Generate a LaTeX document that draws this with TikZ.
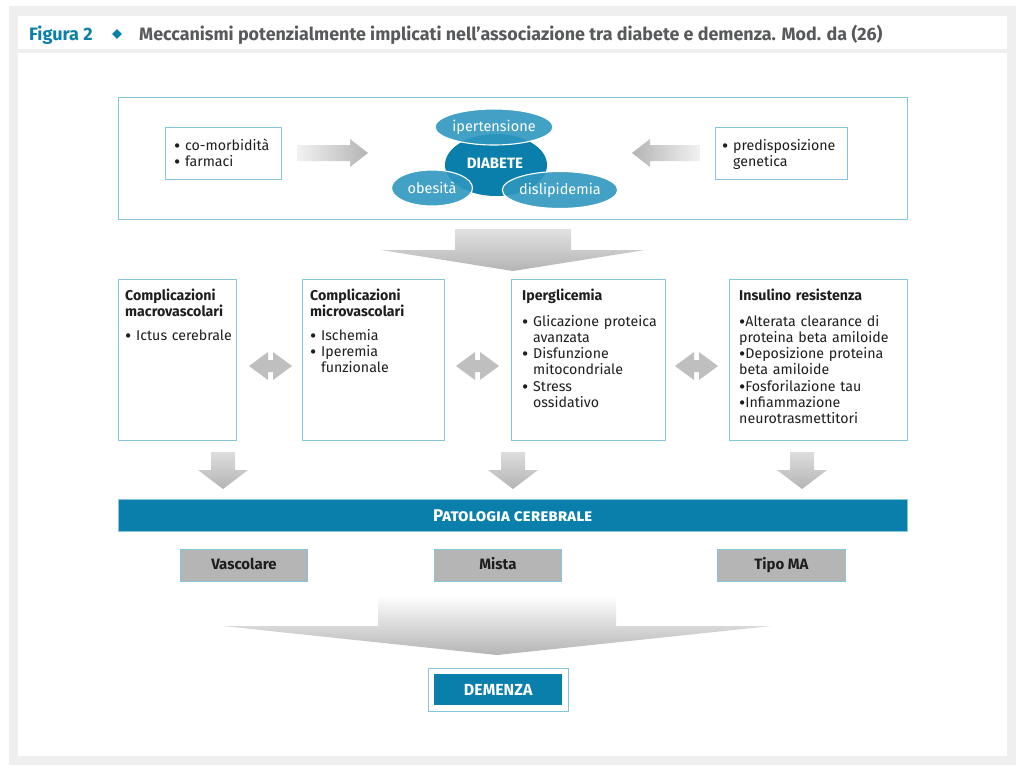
\documentclass[tikz,border=0pt]{standalone}
\usepackage{fontspec}
\usepackage{graphicx}
\setmainfont{Fira Sans}
\usetikzlibrary{shapes.geometric}
\definecolor{tealdk}{HTML}{0A7FAB}
\definecolor{teallt}{HTML}{2F97C0}
\definecolor{boxblue}{HTML}{86C6DC}
\definecolor{arrgray}{HTML}{B4B4B4}
\definecolor{arrlight}{HTML}{F2F2F2}
\definecolor{framegray}{HTML}{EFEFEF}
\definecolor{txtdark}{HTML}{1E1E1E}
\definecolor{titlegray}{HTML}{58595B}
\definecolor{grayfill}{HTML}{B5B5B5}
\newcommand\bul{\raisebox{-2.2pt}{\scalebox{1.35}{\textbullet}}}
\newcommand\blockdown[7]{% cx, sw, hw, ytop, ybase, ytip, light
  \shade[top color=#7, bottom color=arrgray] (#1-#2,#4) -- (#1+#2,#4) -- (#1+#2,#5) -- (#1+#3,#5) -- (#1,#6) -- (#1-#3,#5) -- (#1-#2,#5) -- cycle;}
\newcommand\dblarr[3]{% x0, x1, yc
  \fill[arrgray!85] (#1,#3) -- (#1+19,#3-14) -- (#1+19,#3-6) -- (#2-19,#3-6) -- (#2-19,#3-14) -- (#2,#3) -- (#2-19,#3+14) -- (#2-19,#3+6) -- (#1+19,#3+6) -- (#1+19,#3+14) -- cycle;}
\begin{document}
\begin{tikzpicture}[x=1pt,y=-1pt,
  bluebox/.style={draw=boxblue, line width=0.9pt, fill=white, inner sep=0pt, anchor=north west},
  txt/.style={anchor=base west, inner sep=0pt, align=left, text=txtdark, font=\fontsize{14.2}{16.2}\selectfont},
  ell/.style={ellipse, inner sep=0pt, text=white, font=\fontsize{14.5}{16}\selectfont},
  lightell/.style={ell, fill=teallt, fill opacity=0.9, text opacity=1, draw=white, line width=1.1pt},
  graybox/.style={draw=boxblue, line width=0.9pt, fill=grayfill, inner sep=0pt, anchor=north west},
  graytxt/.style={text=txtdark, font=\bfseries\fontsize{15}{17}\selectfont, inner sep=0pt, text height=10.5pt, text depth=3pt},
]
\useasboundingbox (0,0) rectangle (1024,772);
% frame
\fill[framegray] (9,6) rectangle (1016,765);
\fill[white] (18,16) rectangle (1007,49);
\fill[white] (18,53) rectangle (1007,756);
% header
\node[anchor=base west, inner sep=0pt, text=tealdk, font=\bfseries\fontsize{18}{20}\selectfont] (fig) at (29,40) {Figura 2};
\node[diamond, fill=tealdk, minimum size=10pt, inner sep=0pt] (dia) at (117,34) {};
\node[anchor=base west, inner sep=0pt, text=titlegray, font=\bfseries\fontsize{17.9}{20}\selectfont] (title) at (139,40) {Meccanismi potenzialmente implicati nell’associazione tra diabete e demenza. Mod. da (26)};
% top box
\node[bluebox, minimum width=789, minimum height=122] (topbox) at (118,97) {};
\node[bluebox, minimum width=116, minimum height=52] (lbox) at (165,127) {};
\node[txt, text width=110] (ltxt) at (174,150) {\bul\ co-morbidità\\\bul\ farmaci};
\node[bluebox, minimum width=132, minimum height=52] (rbox) at (715,127) {};
\node[txt, text width=128] (rtxt) at (722,150) {\bul\ predisposizione\\\hphantom{\bul\ }genetica};
% side arrows
\shade[left color=arrlight, right color=arrgray] (297,145) -- (350,145) -- (350,139) -- (368,153) -- (350,167) -- (350,161) -- (297,161) -- cycle;
\shade[left color=arrgray, right color=arrlight] (700,145) -- (650,145) -- (650,139) -- (632,153) -- (650,167) -- (650,161) -- (700,161) -- cycle;
% ellipses
\node[ell, fill=tealdk, minimum width=102, minimum height=62] (diab) at (496,165) {};
\node[lightell, minimum width=106, minimum height=36] (iper) at (494,127) {ipertensione};
\node[lightell, minimum width=81, minimum height=36] (obes) at (432,188) {obesità};
\node[lightell, minimum width=106, minimum height=37] (disl) at (560,190) {dislipidemia};
\node[text=white, font=\bfseries\fontsize{15}{17}\selectfont, inner sep=0pt] (diabtxt) at (495,163) {DIABETE};
% big arrow 1
\blockdown{513}{58}{132}{229}{250}{271}{arrgray!40}
% middle boxes
\node[bluebox, minimum width=118, minimum height=161] (b1) at (118,279) {};
\node[bluebox, minimum width=142, minimum height=161] (b2) at (302,279) {};
\node[bluebox, minimum width=154, minimum height=161] (b3) at (511,279) {};
\node[bluebox, minimum width=178, minimum height=161] (b4) at (729,279) {};
\node[txt, text width=112] (t1) at (125,300) {\textbf{Complicazioni}\\\textbf{macrovascolari}\\[8pt]\bul\ Ictus cerebrale};
\node[txt, text width=136] (t2) at (310,300) {\textbf{Complicazioni}\\\textbf{microvascolari}\\[8pt]\bul\ Ischemia\\\bul\ Iperemia\\\hphantom{\bul\ }funzionale};
\node[txt, text width=150] (t3) at (522,300) {\textbf{Iperglicemia}\\[10pt]\bul\ Glicazione proteica\\\hphantom{\bul\ }avanzata\\\bul\ Disfunzione\\\hphantom{\bul\ }mitocondriale\\\bul\ Stress\\\hphantom{\bul\ }ossidativo};
\node[txt, text width=175] (t4) at (739,300) {\textbf{Insulino resistenza}\\[10pt]\bul Alterata clearance di\\proteina beta amiloide\\\bul Deposizione proteina\\beta amiloide\\\bul Fosforilazione tau\\\bul Infiammazione\\neurotrasmettitori};
% double arrows
\dblarr{249}{292}{366}
\dblarr{456}{499}{366}
\dblarr{675}{718}{366}
% down arrows
\blockdown{223}{12}{25}{452}{470}{489}{arrgray!45}
\blockdown{513}{12}{25}{452}{470}{489}{arrgray!45}
\blockdown{802}{12}{25}{452}{470}{489}{arrgray!45}
% patologia bar
\node[anchor=north west, fill=tealdk, draw=boxblue, line width=0.6pt, minimum width=789, minimum height=32, inner sep=0pt] (pat) at (118,499) {};
\node[text=white, font=\bfseries\fontsize{17}{19}\selectfont, inner sep=0pt] (pattxt) at (pat.center) {\textsc{Patologia cerebrale}};
% gray boxes
\node[graybox, minimum width=127, minimum height=32] (vasc) at (180,549) {};
\node[graybox, minimum width=127, minimum height=32] (mista) at (434,549) {};
\node[graybox, minimum width=128, minimum height=32] (tipo) at (717,549) {};
\node[graytxt] (vasctxt) at (vasc.center) {Vascolare};
\node[graytxt] (mistatxt) at (mista.center) {Mista};
\node[graytxt] (tipotxt) at (tipo.center) {Tipo MA};
% bottom big arrow
\blockdown{497}{119}{274}{595}{626}{655}{white}
% demenza
\node[bluebox, minimum width=140, minimum height=43] (demo) at (428,668) {};
\node[anchor=north west, fill=tealdk, minimum width=128, minimum height=31, inner sep=0pt] (demi) at (434,674) {};
\node[text=white, font=\bfseries\fontsize{16}{18}\selectfont, inner sep=0pt, text height=11pt, text depth=0pt] (demtxt) at (demi.center) {DEMENZA};
\end{tikzpicture}
\end{document}
